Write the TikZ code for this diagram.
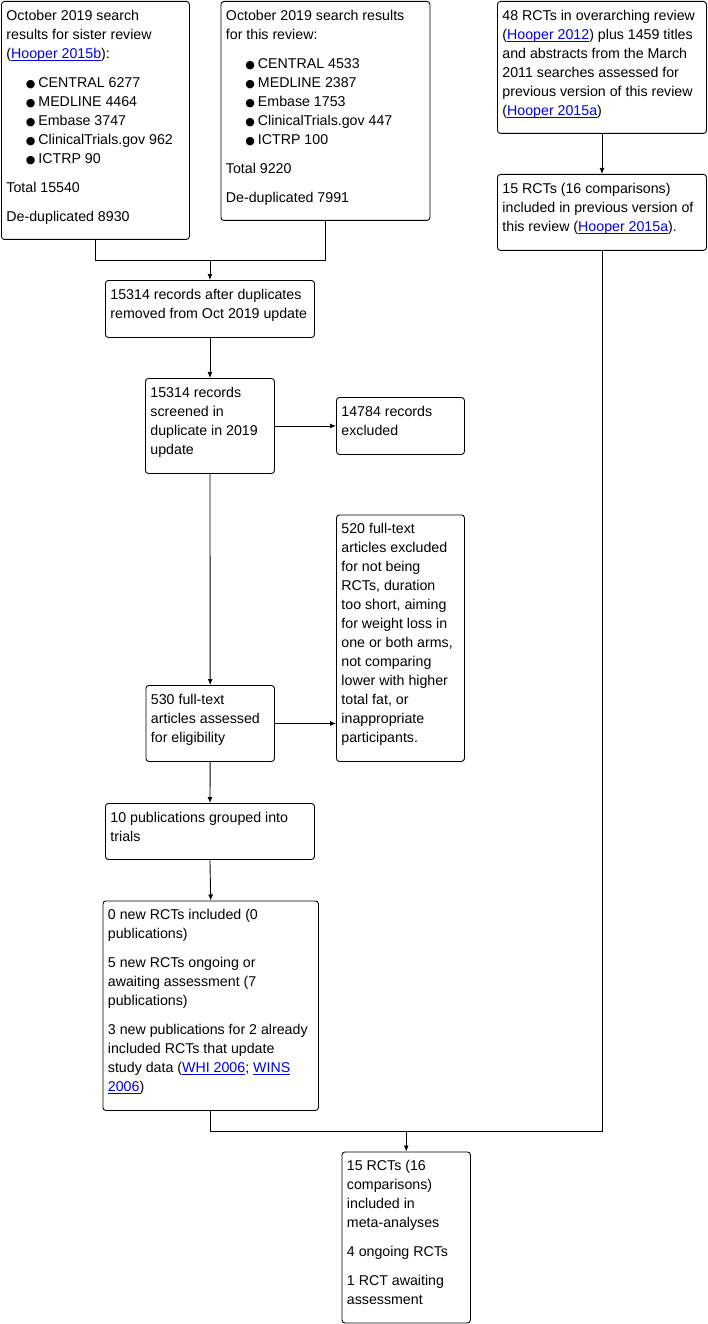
\documentclass[tikz,border=0pt]{standalone}
\usepackage{fontspec}
\setmainfont{Liberation Sans}
\newfontfamily\symfont{DejaVu Sans}
\usetikzlibrary{arrows.meta}
\definecolor{linkblue}{RGB}{0,0,238}
\newcommand{\lnk}[1]{\textcolor{linkblue}{\underline{\smash{#1}}}}
\newcommand{\itm}{\hspace*{19.5pt}\makebox[12.5pt][l]{{\symfont\fontsize{11}{19}\selectfont ●}}}
\newcommand{\boxtext}[3]{\parbox[t][#2][t]{#1}{\raggedright\rule{0pt}{19pt}#3}}
\tikzset{
  box/.style={draw, line width=0.9pt, rounded corners=3pt, anchor=north west,
    inner xsep=5pt, inner ysep=0pt, font=\fontsize{14.2}{19}\selectfont},
  conn/.style={line width=0.9pt}
}

\begin{document}
\begin{tikzpicture}[x=1pt, y=-1pt, >={Latex[length=6pt,width=5pt]}]
    \useasboundingbox (0,0) rectangle (707,1324);

    % 1. Search results
    \node[box] (sister) at (1,1) {\boxtext{178pt}{238pt}{October 2019 search\\
        results for sister review\\
        (\lnk{Hooper 2015b}):\\[10pt]
        \itm CENTRAL 6277\\
        \itm MEDLINE 4464\\
        \itm Embase 3747\\
        \itm ClinicalTrials.gov 962\\
        \itm ICTRP 90\\[10pt]
        Total 15540\\[10pt]
        De-duplicated 8930}};
    \node[box] (this) at (220.5,1) {\boxtext{199pt}{219pt}{October 2019 search results\\
        for this review:\\[10pt]
        \itm CENTRAL 4533\\
        \itm MEDLINE 2387\\
        \itm Embase 1753\\
        \itm ClinicalTrials.gov 447\\
        \itm ICTRP 100\\[10pt]
        Total 9220\\[10pt]
        De-duplicated 7991}};
    \node[box] (over) at (497,1) {\boxtext{199pt}{132pt}{48 RCTs in overarching review\\
        (\lnk{Hooper 2012}) plus 1459 titles\\
        and abstracts from the March\\
        2011 searches assessed for\\
        previous version of this review\\
        (\lnk{Hooper 2015a})}};
    \node[box] (prev) at (497,174) {\boxtext{199pt}{76pt}{15 RCTs (16 comparisons)\\
        included in previous version of\\
        this review (\lnk{Hooper 2015a}).}};

    % 2. Screening
    \node[box] (dedup) at (105,280) {\boxtext{199pt}{57pt}{15314 records after duplicates\\
        removed from Oct 2019 update}};
    \node[box] (screen) at (145,378) {\boxtext{119pt}{95pt}{15314 records\\
        screened in\\
        duplicate in 2019\\
        update}};
    \node[box] (excl) at (336,397) {\boxtext{118pt}{57pt}{14784 records\\
        excluded}};
    \node[box] (ftexcl) at (336,514.5) {\boxtext{118pt}{246.5pt}{520 full-text\\
        articles excluded\\
        for not being\\
        RCTs, duration\\
        too short, aiming\\
        for weight loss in\\
        one or both arms,\\
        not comparing\\
        lower with higher\\
        total fat, or\\
        inappropriate\\
        participants.}};
    \node[box] (ftassess) at (145.5,685) {\boxtext{118.5pt}{76pt}{530 full-text\\
        articles assessed\\
        for eligibility}};

    % 3. Inclusion
    \node[box] (group) at (105,803) {\boxtext{199pt}{56pt}{10 publications grouped into\\
        trials}};
    \node[box] (incl) at (102.5,900.5) {\boxtext{205.5pt}{209.5pt}{0 new RCTs included (0\\
        publications)\\[10pt]
        5 new RCTs ongoing or\\
        awaiting assessment (7\\
        publications)\\[10pt]
        3 new publications for 2 already\\
        included RCTs that update\\
        study data (\lnk{WHI 2006}; \lnk{WINS}\\
        \lnk{2006})}};
    \node[box] (final) at (341.5,1151.5) {\boxtext{118.5pt}{171pt}{15 RCTs (16\\
        comparisons)\\
        included in\\
        meta-analyses\\[10pt]
        4 ongoing RCTs\\[10pt]
        1 RCT awaiting\\
        assessment}};

    % 4. Connectors
    \path (dedup.north) ++(0,-20) coordinate (j1);
    \path (final.north) ++(0,-20) coordinate (j2);
    \draw[conn] (sister.south) |- (j1);
    \draw[conn] (this.south) |- (j1);
    \draw[conn, ->] (j1) -- (dedup.north);
    \draw[conn, ->] (over.south) -- (prev.north);
    \draw[conn, ->] (dedup.south) -- (screen.north);
    \draw[conn, ->] (screen.east) -- (screen.east -| excl.west);
    \draw[conn, ->] (screen.south) -- (ftassess.north);
    \draw[conn, ->] (ftassess.east) -- (ftassess.east -| ftexcl.west);
    \draw[conn, ->] (ftassess.south) -- (group.north);
    \draw[conn, ->] (group.south) -- (incl.north);
    \draw[conn] (incl.south) |- (j2);
    \draw[conn] (prev.south) |- (j2);
    \draw[conn, ->] (j2) -- (final.north);
\end{tikzpicture}
\end{document}
